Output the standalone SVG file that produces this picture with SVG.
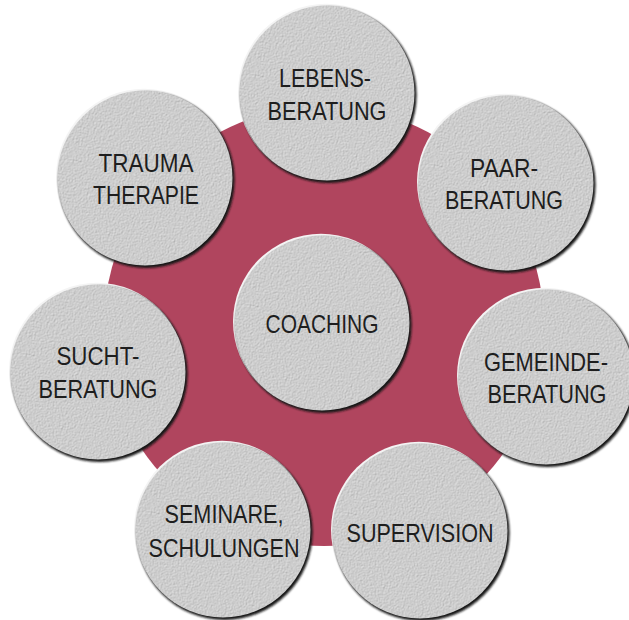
<svg xmlns="http://www.w3.org/2000/svg" width="629" height="620" viewBox="0 0 629 620">
<style>
.bg{fill:#b0455e}
.sh{fill:#151515}
.hl{fill:#f4f4f4}
.disc{fill:#c8c8c8;filter:url(#tex)}
.t{font-family:"Liberation Sans",Arial,sans-serif;font-size:25px;fill:#1e1e1e;text-anchor:middle}
</style>
<defs>
<filter id="tex" x="0" y="0" width="1" height="1" color-interpolation-filters="sRGB">
<feTurbulence type="fractalNoise" baseFrequency="0.85" numOctaves="2" seed="4" result="n"/>
<feDiffuseLighting in="n" surfaceScale="0.55" lighting-color="#e8e8e8" result="l"><feDistantLight azimuth="225" elevation="62"/></feDiffuseLighting>
<feComposite in="l" in2="SourceGraphic" operator="in"/>
</filter>
<filter id="blur" x="-10%" y="-10%" width="120%" height="120%"><feGaussianBlur stdDeviation="0.8"/></filter>
<g id="disc">
<circle class="hl" cx="-1" cy="-1.2" r="88"/>
<circle class="sh" cx="1.6" cy="2" r="88" filter="url(#blur)"/>
<circle class="disc" cx="0" cy="0" r="87.5"/>
</g>
</defs>
<circle class="bg" cx="324" cy="326" r="220"/>
<g id="connectors"></g>
<g id="coaching"><use href="#disc" x="322" y="323"/><text class="t" x="322" y="333" textLength="113" lengthAdjust="spacingAndGlyphs">COACHING</text></g>
<g id="lebensberatung"><use href="#disc" x="327" y="93"/><text class="t" x="325" y="87" textLength="92" lengthAdjust="spacingAndGlyphs">LEBENS-</text><text class="t" x="327" y="120" textLength="119" lengthAdjust="spacingAndGlyphs">BERATUNG</text></g>
<g id="paarberatung"><use href="#disc" x="506" y="183"/><text class="t" x="504" y="177" textLength="68" lengthAdjust="spacingAndGlyphs">PAAR-</text><text class="t" x="504" y="209" textLength="118" lengthAdjust="spacingAndGlyphs">BERATUNG</text></g>
<g id="gemeindeberatung"><use href="#disc" x="546" y="377"/><text class="t" x="546" y="371" textLength="124" lengthAdjust="spacingAndGlyphs">GEMEINDE-</text><text class="t" x="547" y="403" textLength="119" lengthAdjust="spacingAndGlyphs">BERATUNG</text></g>
<g id="supervision"><use href="#disc" x="420" y="531"/><text class="t" x="420" y="542" textLength="147" lengthAdjust="spacingAndGlyphs">SUPERVISION</text></g>
<g id="seminare"><use href="#disc" x="223" y="530"/><text class="t" x="224" y="523" textLength="119" lengthAdjust="spacingAndGlyphs">SEMINARE,</text><text class="t" x="224" y="557" textLength="151" lengthAdjust="spacingAndGlyphs">SCHULUNGEN</text></g>
<g id="suchtberatung"><use href="#disc" x="98" y="372"/><text class="t" x="98" y="365" textLength="83" lengthAdjust="spacingAndGlyphs">SUCHT-</text><text class="t" x="98" y="398" textLength="119" lengthAdjust="spacingAndGlyphs">BERATUNG</text></g>
<g id="traumatherapie"><use href="#disc" x="145" y="178"/><text class="t" x="146" y="172" textLength="95" lengthAdjust="spacingAndGlyphs">TRAUMA</text><text class="t" x="146" y="204" textLength="106" lengthAdjust="spacingAndGlyphs">THERAPIE</text></g>
</svg>
